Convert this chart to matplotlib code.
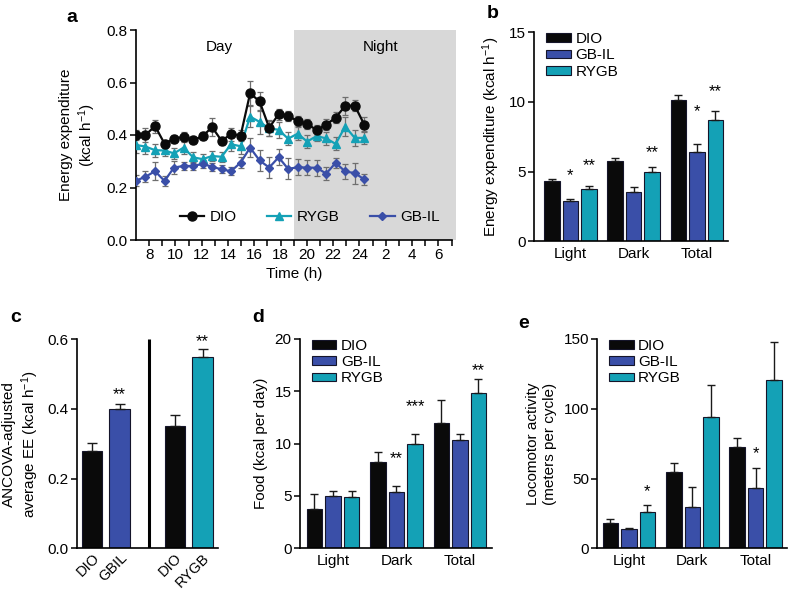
import numpy as np
import matplotlib
matplotlib.use('Agg')
import matplotlib.pyplot as plt

plt.rcParams['font.family'] = ['Liberation Sans', 'DejaVu Sans']
plt.rcParams['mathtext.default'] = 'regular'
FS = 11
plt.rcParams['font.size'] = FS

# ---------------- Panel a data ----------------
time_h = [7.00, 7.72, 8.45, 9.17, 9.89, 10.62, 11.34, 12.06, 12.79, 13.51, 14.23, 14.96,
          15.68, 16.40, 17.13, 17.85, 18.57, 19.30, 20.02, 20.74, 21.47, 22.19, 22.91, 23.64, 24.36]
dio_ee = [0.400, 0.400, 0.434, 0.367, 0.386, 0.393, 0.381, 0.395, 0.430, 0.378, 0.403, 0.398,
          0.559, 0.528, 0.428, 0.479, 0.473, 0.453, 0.442, 0.419, 0.440, 0.466, 0.511, 0.512, 0.440]
dio_err = [0.02, 0.025, 0.025, 0.015, 0.015, 0.018, 0.015, 0.015, 0.035, 0.015, 0.025, 0.02,
           0.045, 0.035, 0.03, 0.02, 0.02, 0.02, 0.02, 0.02, 0.02, 0.02, 0.035, 0.02, 0.03]
rygb_ee = [0.362, 0.356, 0.342, 0.341, 0.330, 0.352, 0.315, 0.308, 0.320, 0.317, 0.365, 0.357,
           0.470, 0.450, 0.425, 0.420, 0.386, 0.405, 0.375, 0.396, 0.387, 0.366, 0.432, 0.389, 0.389]
rygb_err = [0.03, 0.03, 0.025, 0.02, 0.02, 0.025, 0.02, 0.02, 0.02, 0.02, 0.025, 0.03,
            0.04, 0.045, 0.03, 0.03, 0.025, 0.025, 0.025, 0.02, 0.025, 0.025, 0.035, 0.03, 0.025]
gbil_ee = [0.226, 0.241, 0.262, 0.225, 0.276, 0.282, 0.282, 0.290, 0.279, 0.269, 0.262, 0.295,
           0.352, 0.303, 0.276, 0.315, 0.271, 0.277, 0.276, 0.275, 0.253, 0.294, 0.261, 0.255, 0.231]
gbil_err = [0.02, 0.02, 0.035, 0.02, 0.025, 0.015, 0.015, 0.015, 0.015, 0.015, 0.015, 0.02,
            0.035, 0.04, 0.04, 0.03, 0.04, 0.03, 0.03, 0.03, 0.025, 0.02, 0.03, 0.04, 0.02]
a_xticks = list(range(8, 32))
a_xticklabels = ['8', '', '10', '', '12', '', '14', '', '16', '', '18', '', '20', '', '22', '',
                 '24', '', '2', '', '4', '', '6', '']

# ---------------- Panel b data ----------------
groups = ['Light', 'Dark', 'Total']
b_dio = [4.33, 5.77, 10.12]
b_dio_err = [0.17, 0.21, 0.38]
b_gbil = [2.89, 3.52, 6.41]
b_gbil_err = [0.15, 0.40, 0.57]
b_rygb = [3.73, 4.95, 8.73]
b_rygb_err = [0.26, 0.41, 0.65]
b_stars = [(0, 1, '*', 5.12), (0, 2, '**', 5.84), (1, 2, '**', 6.72), (2, 1, '*', 9.66), (2, 2, '**', 11.1)]

# ---------------- Panel c data ----------------
c_labels = ['DIO', 'GBIL', 'DIO', 'RYGB']
c_values = [0.28, 0.40, 0.35, 0.55]
c_err = [0.021, 0.013, 0.033, 0.021]
c_stars = [(1, '**', 0.457), (3, '**', 0.608)]

# ---------------- Panel d data ----------------
d_dio = [3.73, 8.25, 12.0]
d_dio_err = [1.46, 0.95, 2.17]
d_gbil = [5.0, 5.38, 10.38]
d_gbil_err = [0.51, 0.58, 0.58]
d_rygb = [4.87, 9.97, 14.87]
d_rygb_err = [0.64, 0.99, 1.28]
d_stars = [(1, 1, '**', 9.08), (1, 2, '***', 14.08), (2, 2, '**', 17.5)]

# ---------------- Panel e data ----------------
e_dio = [17.9, 54.7, 72.85]
e_dio_err = [2.9, 6.2, 6.45]
e_gbil = [13.6, 29.6, 43.5]
e_gbil_err = [1.0, 14.1, 14.3]
e_rygb = [26.3, 94.3, 120.6]
e_rygb_err = [4.75, 23.0, 27.5]
e_stars = [(0, 2, '*', 44.2), (2, 1, '*', 71.7)]

C_DIO = '#0a0a0a'
C_GBIL = '#3a4fa8'
C_RYGB = '#14a1b6'
EDGE = '#15152a'

W, H = 788, 592
fig = plt.figure(figsize=(W / 100, H / 100), dpi=100)


def px_axes(l, r, t, b):
    return fig.add_axes([l / W, 1 - b / H, (r - l) / W, (b - t) / H])


def style(ax):
    for s in ['top', 'right']:
        ax.spines[s].set_visible(False)
    for s in ['left', 'bottom']:
        ax.spines[s].set_linewidth(1.2)
    ax.tick_params(direction='out', length=4, width=1.1, labelsize=FS, pad=2)


def star(ax, x, y, s):
    ax.annotate(s, xy=(x, y), xytext=(0, -7), textcoords='offset points',
                ha='center', va='baseline', fontsize=12, annotation_clip=False)


# ---------------- Panel a ----------------
axa = px_axes(136, 451.5, 30, 240)
style(axa)
axa.axvspan(19, 31.35, ymin=0, ymax=1, color='#d8d8d8', zorder=0, clip_on=False, lw=0)
ek = dict(ecolor='#6e6e6e', elinewidth=0.9, capsize=2.5, capthick=0.9, fmt='none', zorder=2)
axa.errorbar(time_h, dio_ee, yerr=dio_err, **ek)
axa.errorbar(time_h, rygb_ee, yerr=rygb_err, **ek)
axa.errorbar(time_h, gbil_ee, yerr=gbil_err, **ek)
l1, = axa.plot(time_h, dio_ee, '-o', color=C_DIO, lw=1.6, ms=6.5, zorder=4, label='DIO')
l2, = axa.plot(time_h, rygb_ee, '-^', color=C_RYGB, lw=1.6, ms=6, zorder=3, label='RYGB')
l3, = axa.plot(time_h, gbil_ee, '-D', color=C_GBIL, lw=1.6, ms=4.5, zorder=3, label='GB-IL')
axa.set_xlim(7, 31)
axa.set_ylim(0, 0.8)
axa.set_yticks([0, 0.2, 0.4, 0.6, 0.8])
axa.set_yticklabels(['0.0', '0.2', '0.4', '0.6', '0.8'])
axa.set_xticks(a_xticks)
axa.set_xticklabels(a_xticklabels)
axa.set_xlabel('Time (h)', fontsize=FS, labelpad=3)
axa.set_ylabel('Energy expenditure\n(kcal h$^{-1}$)', fontsize=FS, labelpad=6)
axa.text(13.3, 0.735, 'Day', ha='center', va='center', fontsize=FS)
axa.text(25.6, 0.735, 'Night', ha='center', va='center', fontsize=FS)
axa.legend(handles=[l1, l2, l3], loc='center', bbox_to_anchor=(0.55, 0.11), ncol=3,
           frameon=False, handlelength=1.6, handletextpad=0.35, columnspacing=2.0, fontsize=FS)
fig.text(66 / W, 1 - 18 / H, 'a', fontsize=14, fontweight='bold', ha='left', va='center')


def grouped(ax, dio, dio_e, gbil, gbil_e, rygb, rygb_e, stars, ymax, yticks, legend_anchor):
    x = np.arange(len(groups))
    off = 0.292
    w = 0.245
    series = [(dio, dio_e, C_DIO, 'DIO'), (gbil, gbil_e, C_GBIL, 'GB-IL'), (rygb, rygb_e, C_RYGB, 'RYGB')]
    for i, (v, e, c, lab) in enumerate(series):
        ax.bar(x + (i - 1) * off, v, width=w, color=c, edgecolor=EDGE, linewidth=0.8, label=lab,
               yerr=[np.zeros(len(v)), e], capsize=3,
               error_kw=dict(ecolor='#1a1a1a', elinewidth=1.0, capthick=1.0), zorder=2)
    for g, s, txt, y in stars:
        star(ax, x[g] + (s - 1) * off, y, txt)
    ax.set_xlim(-0.52, 2.5)
    ax.set_ylim(0, ymax)
    ax.set_yticks(yticks)
    ax.set_xticks(x)
    ax.set_xticklabels(groups)
    ax.tick_params(axis='x', length=0, pad=4)
    ax.legend(loc='upper left', bbox_to_anchor=legend_anchor, frameon=False, handlelength=1.6,
              handleheight=0.5, handletextpad=0.3, labelspacing=0.15, borderaxespad=0, fontsize=FS)


# ---------------- Panel b ----------------
axb = px_axes(534.3, 728.3, 32.3, 241.3)
style(axb)
grouped(axb, b_dio, b_dio_err, b_gbil, b_gbil_err, b_rygb, b_rygb_err, b_stars, 15, [0, 5, 10, 15],
        (0.03, 1.03))
axb.set_xlim(-0.57, 2.495)
axb.set_ylabel('Energy expenditure (kcal h$^{-1}$)', fontsize=FS, labelpad=5)
fig.text(487 / W, 1 - 13 / H, 'b', fontsize=14, fontweight='bold', ha='left', va='center')

# ---------------- Panel c ----------------
axc = px_axes(77.3, 218.3, 339.3, 548.3)
style(axc)
cx = [0, 1, 3, 4]
c_colors = [C_DIO, C_GBIL, C_DIO, C_RYGB]
axc.bar(cx, c_values, width=0.75, color=c_colors, edgecolor=EDGE, linewidth=0.8,
        yerr=[np.zeros(len(c_values)), c_err], capsize=3.5,
        error_kw=dict(ecolor='#1a1a1a', elinewidth=1.0, capthick=1.0), zorder=2)
axc.plot([2.05, 2.05], [0, 0.6], color='black', lw=2.2, solid_capstyle='butt')
for i, txt, y in c_stars:
    star(axc, cx[i], y, txt)
axc.set_xlim(-0.53, 4.57)
axc.set_ylim(0, 0.6)
axc.set_yticks([0, 0.2, 0.4, 0.6])
axc.set_yticklabels(['0.0', '0.2', '0.4', '0.6'])
axc.set_xticks(cx)
axc.set_xticklabels(c_labels, rotation=45, ha='right', rotation_mode='anchor', fontsize=10.5)
axc.tick_params(axis='x', length=0, pad=2)
axc.set_ylabel('ANCOVA-adjusted\naverage EE (kcal h$^{-1}$)', fontsize=FS, labelpad=5)
fig.text(10 / W, 1 - 318 / H, 'c', fontsize=14, fontweight='bold', ha='left', va='center')

# ---------------- Panel d ----------------
axd = px_axes(300, 491.7, 339, 548.3)
style(axd)
grouped(axd, d_dio, d_dio_err, d_gbil, d_gbil_err, d_rygb, d_rygb_err, d_stars, 20, [0, 5, 10, 15, 20],
        (0.03, 1.03))
axd.set_ylabel('Food (kcal per day)', fontsize=FS, labelpad=5)
fig.text(252 / W, 1 - 318 / H, 'd', fontsize=14, fontweight='bold', ha='left', va='center')

# ---------------- Panel e ----------------
axe = px_axes(597.3, 787.3, 339, 548.3)
style(axe)
grouped(axe, e_dio, e_dio_err, e_gbil, e_gbil_err, e_rygb, e_rygb_err, e_stars, 150, [0, 50, 100, 150],
        (0.03, 1.03))
axe.set_xlim(-0.5, 2.5)
axe.set_ylabel('Locomotor activity\n(meters per cycle)', fontsize=FS, labelpad=5)
fig.text(518 / W, 1 - 323 / H, 'e', fontsize=14, fontweight='bold', ha='left', va='center')

fig.savefig('out.png', dpi=100)
